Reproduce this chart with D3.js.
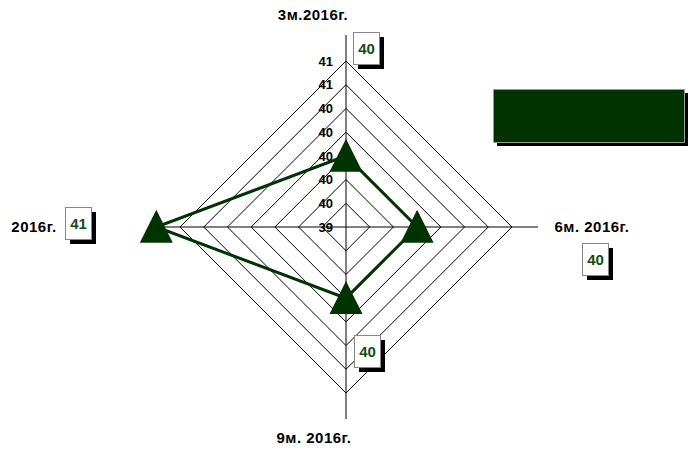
<!DOCTYPE html>
<html>
<head>
<meta charset="utf-8">
<script src="https://cdn.jsdelivr.net/npm/d3@7"></script>
<style>
  body { margin: 0; background: #fff; }
  text { font-family: "Liberation Sans", Arial, sans-serif; font-weight: bold; }
</style>
</head>
<body>
<script>
var width = 691, height = 450;

var categories = ["3м.2016г.", "6м. 2016г.", "9м. 2016г.", "2016г."];
var values = [40.0, 40.0, 40.0, 41.0];
var ticks = [39.4, 39.6, 39.8, 40.0, 40.2, 40.4, 40.6, 40.8];
var seriesColor = "#003300";

var cx = 346, cy = 227, R = 166, axisExtra = 26;

var r = d3.scaleLinear().domain([39.4, 40.8]).range([0, R]);

// 4 axes: top, right, bottom, left
function ang(c) { return categories.indexOf(c) * Math.PI / 2 - Math.PI / 2; }
function pt(c, rad) { return [Math.cos(ang(c)) * rad, Math.sin(ang(c)) * rad]; }

var svg = d3.select("body").append("svg")
  .attr("width", width)
  .attr("height", height);

var g = svg.append("g").attr("transform", "translate(" + cx + "," + cy + ")");

// grid rings
var ring = d3.line();
g.selectAll(".ring")
  .data(ticks.slice(1))
  .enter().append("path")
  .attr("d", function(t) { return ring(categories.map(function(c) { return pt(c, r(t)); })) + "Z"; })
  .attr("fill", "none")
  .attr("stroke", "#000")
  .attr("stroke-width", 1);

// axes
g.selectAll(".axis")
  .data(categories)
  .enter().append("line")
  .attr("x1", 0).attr("y1", 0)
  .attr("x2", function(c) { return pt(c, R + axisExtra)[0]; })
  .attr("y2", function(c) { return pt(c, R + axisExtra)[1]; })
  .attr("stroke", "#000")
  .attr("stroke-width", 1);

// tick labels
g.selectAll(".tick")
  .data(ticks)
  .enter().append("text")
  .attr("x", -13)
  .attr("y", function(t) { return -r(t); })
  .attr("dy", "0.36em")
  .attr("text-anchor", "end")
  .attr("font-size", 13)
  .text(function(t) { return d3.format(".0f")(t); });

// series line
var data = categories.map(function(c, i) { return {c: c, v: values[i]}; });
g.append("path")
  .attr("d", ring(data.map(function(d) { return pt(d.c, r(d.v)); })) + "Z")
  .attr("fill", "none")
  .attr("stroke", seriesColor)
  .attr("stroke-width", 3);

// markers
function tri(w, h) {
  return d3.line()([[0, -h * 0.52], [w / 2, h * 0.48], [-w / 2, h * 0.48]]) + "Z";
}
g.selectAll(".marker")
  .data(data)
  .enter().append("path")
  .attr("transform", function(d) { var p = pt(d.c, r(d.v)); return "translate(" + p[0] + "," + p[1] + ")"; })
  .attr("d", tri(33, 33))
  .attr("fill", seriesColor);

// category labels
var catPos = [[313, 20], [592, 232], [314, 443], [34, 232]];
svg.selectAll(".cat")
  .data(categories)
  .enter().append("text")
  .attr("x", function(c, i) { return catPos[i][0]; })
  .attr("y", function(c, i) { return catPos[i][1]; })
  .attr("text-anchor", "middle")
  .attr("font-size", 15)
  .attr("letter-spacing", 0.5)
  .text(function(c) { return c; });

// data labels
var labelPos = [[353, 32], [582, 243], [354, 335], [65, 207]];
var lbl = svg.selectAll(".lbl")
  .data(data)
  .enter().append("g")
  .attr("transform", function(d, i) { return "translate(" + labelPos[i][0] + "," + labelPos[i][1] + ")"; });
lbl.append("rect")
  .attr("x", 5).attr("y", 5).attr("width", 26).attr("height", 32)
  .attr("fill", "#000");
lbl.append("rect")
  .attr("x", 0.5).attr("y", 0.5).attr("width", 26).attr("height", 32)
  .attr("fill", "#fff").attr("stroke", "#888");
lbl.append("text")
  .attr("x", 13.5).attr("y", 22)
  .attr("text-anchor", "middle")
  .attr("font-size", 15)
  .attr("fill", "#134d13")
  .text(function(d) { return d3.format(".0f")(d.v); });

// legend
var legend = svg.append("g").attr("transform", "translate(493,89)");
legend.append("rect")
  .attr("x", 4).attr("y", 4).attr("width", 191).attr("height", 53)
  .attr("fill", "#000");
legend.append("rect")
  .attr("x", 0.5).attr("y", 0.5).attr("width", 191).attr("height", 53)
  .attr("fill", seriesColor).attr("stroke", "#999").attr("stroke-width", 1);
</script>
</body>
</html>
